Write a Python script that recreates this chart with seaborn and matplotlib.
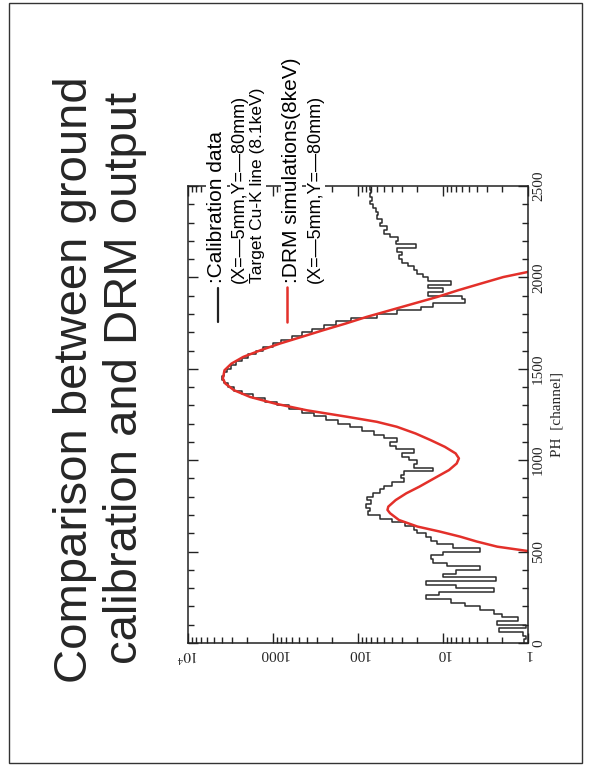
import matplotlib
matplotlib.use("Agg")
import matplotlib.pyplot as plt
import seaborn as sns
import pandas as pd
from matplotlib.lines import Line2D
from matplotlib.patches import Rectangle
from matplotlib.ticker import MultipleLocator, LogLocator, NullFormatter

# calibration spectrum, 20 channel bins from 0 to 2500
ph_edges = list(range(0, 2501, 20))
calib_counts = [
    1.1, 1.05, 1.15, 2.2, 1.05, 2.3, 1.3, 2.0, 2.5, 3.7,
    5.5, 8, 16, 11, 2.5, 7, 16, 2.4, 10, 7,
    3.7, 9, 13, 14, 10, 3.7, 7.6, 11.7, 14, 16,
    20, 22, 28, 40, 55, 76, 72, 80, 70, 78,
    66, 55, 50, 40, 29, 31, 29, 13, 22, 20,
    25, 30, 22, 36, 42, 35, 50, 65, 90, 125,
    170, 240, 330, 460, 640, 900, 1250, 1700, 2300, 2900,
    3400, 3800, 3950, 3800, 3500, 3100, 2700, 2300, 1950, 1600,
    1300, 1000, 800, 600, 450, 350, 250, 180, 120, 60,
    35, 18, 13, 5.5, 6, 15, 10, 15, 8, 15,
    17, 20, 22, 26, 30, 33, 30, 35, 21, 36,
    34, 42, 50, 46, 55, 52, 60, 58, 62, 66,
    72, 68, 72, 70, 72,
]

# DRM simulation curve
drm_ph = [503, 527, 555, 582, 610, 637, 673, 710, 728, 746,
          782, 819, 855, 910, 946, 982, 1010, 1037, 1073, 1110,
          1146, 1183, 1210, 1237, 1273, 1310, 1346, 1383, 1419, 1446,
          1492, 1528, 1565, 1601, 1638, 1675, 1711, 1747, 1784, 1820,
          1857, 1893, 1930, 1966, 2002, 2030]
drm_counts = [1.0, 2.3, 4.0, 6.3, 11, 20, 33, 42, 45, 44,
              36, 27, 19, 11.7, 8.5, 6.9, 6.5, 7.1, 9.5, 14,
              21, 35, 60, 132, 400, 950, 1860, 2880, 3630, 3890,
              3720, 3090, 2240, 1410, 830, 457, 257, 141, 79, 42,
              22, 11.7, 6.6, 3.6, 1.95, 1.0]

count_ticks = [1e4, 1000, 100, 10, 1]
count_labels = ['$10^4$', '1000', '100', '10', '1']
ph_ticks = [0, 500, 1000, 1500, 2000, 2500]

sns.set_style("white")
plt.rcParams['font.family'] = ['Liberation Sans', 'DejaVu Sans']
plt.rcParams['mathtext.fontset'] = 'stix'

W, H = 589, 767
fig = plt.figure(figsize=(W / 100, H / 100), dpi=100)
ax = fig.add_axes([188 / W, 124 / H, 340 / W, 457 / H])

df = pd.DataFrame({'ph': [(a + b) / 2 for a, b in zip(ph_edges[:-1], ph_edges[1:])],
                   'counts': calib_counts})
sns.histplot(data=df, y='ph', weights='counts', bins=ph_edges, element='step',
             fill=False, color='#2b2b2b', linewidth=1.1, ax=ax)
sns.lineplot(x=drm_counts, y=drm_ph, sort=False, estimator=None,
             color='#e3302a', linewidth=1.8, ax=ax)

ax.set_xscale('log')
ax.set_xlim(1e4, 1)
ax.set_ylim(0, 2500)

serif = 'Liberation Serif'
ax.set_xticks(count_ticks)
ax.set_xticklabels(count_labels, rotation=180, fontsize=11, fontfamily=serif)
ax.xaxis.set_minor_locator(LogLocator(base=10, subs=range(2, 10)))
ax.xaxis.set_minor_formatter(NullFormatter())
ax.set_yticks(ph_ticks)
ax.set_yticklabels([str(t) for t in ph_ticks], rotation=90, va='center',
                   fontsize=11, fontfamily=serif)
ax.yaxis.set_minor_locator(MultipleLocator(100))
ax.yaxis.tick_right()
ax.yaxis.set_label_position('right')
ax.tick_params(which='both', direction='in', top=True, bottom=True,
               left=True, right=True, labelleft=False, labelright=True,
               color='#222222', width=1)
ax.tick_params(which='major', length=7, pad=3)
ax.tick_params(which='minor', length=4)
ax.set_xlabel('')
ax.set_ylabel('PH  [channel]', rotation=90, fontsize=11, fontfamily=serif,
              labelpad=4)
for s in ax.spines.values():
    s.set_color('#222222')
    s.set_linewidth(1.1)

# slide title
fig.text(87 / W, 1 - 380 / H, 'Comparison between ground', rotation=90,
         rotation_mode='anchor', ha='center', va='baseline', fontsize=34)
fig.text(137 / W, 1 - 378 / H, 'calibration and DRM output', rotation=90,
         rotation_mode='anchor', ha='center', va='baseline', fontsize=34)

# legend
fig.add_artist(Line2D([218 / W, 218 / W], [1 - 322 / H, 1 - 288 / H],
                      transform=fig.transFigure, color='#222222', lw=1.6))
fig.add_artist(Line2D([287 / W, 287 / W], [1 - 322 / H, 1 - 287 / H],
                      transform=fig.transFigure, color='#e3302a', lw=1.8))
legend_lines = [
    (222, ':Calibration data', 15),
    (244, '(X=\u20145mm,Y=\u201480mm)', 13),
    (262, 'Target Cu-K line (8.1keV)', 12.5),
    (297, ':DRM simulations(8keV)', 15),
    (320, '(X=\u20145mm,Y=\u201480mm)', 13),
]
for bx, txt, fs in legend_lines:
    fig.text(bx / W, 1 - 283 / H, txt, rotation=90, rotation_mode='anchor',
             ha='left', va='baseline', fontsize=fs, color='black',
             bbox=dict(fc='white', ec='none', pad=0.5))

# slide frame
fig.add_artist(Rectangle((9 / W, 4 / H), 573 / W, 760 / H,
                         transform=fig.transFigure, fill=False,
                         ec='#333333', lw=1))

fig.savefig('out.png', dpi=100)
